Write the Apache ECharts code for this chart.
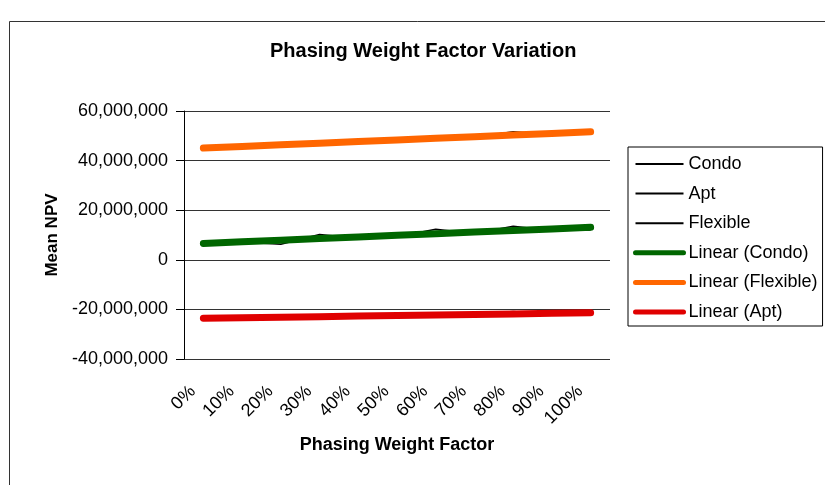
<!DOCTYPE html>
<html>
<head>
<meta charset="utf-8">
<script src="https://cdn.jsdelivr.net/npm/echarts@6/dist/echarts.min.js"></script>
<style>
  html, body { margin: 0; padding: 0; background: #fff; }
  #chart { width: 825px; height: 485px; }
</style>
</head>
<body>
<div id="chart"></div>
<script>
// Phasing weight factor on the category axis
const categories = ['0%', '10%', '20%', '30%', '40%', '50%', '60%', '70%', '80%', '90%', '100%'];

// Mean NPV per product type
const condo = [6600000, 7200000, 6300000, 10200000, 8700000, 9300000, 12300000, 10600000, 13500000, 11800000, 12000000];
const apt = [-23600000, -23400000, -23200000, -23000000, -22700000, -22500000, -22300000, -22000000, -20800000, -22000000, -21800000];
const flexible = [45100000, 45700000, 46300000, 47000000, 47600000, 48200000, 48800000, 49400000, 51600000, 50500000, 51300000];

// Value axis ticks
const yMin = -40000000;
const yMax = 60000000;
const yStep = 20000000;

const FONT = '"Liberation Sans", Arial, sans-serif';

// Least-squares linear trend evaluated at every category
function linearTrend(values) {
  const n = values.length;
  let sx = 0, sy = 0, sxy = 0, sxx = 0;
  values.forEach((v, i) => { sx += i; sy += v; sxy += i * v; sxx += i * i; });
  const slope = (n * sxy - sx * sy) / (n * sxx - sx * sx);
  const icpt = (sy - slope * sx) / n;
  return values.map((_, i) => icpt + slope * i);
}

const chart = echarts.init(document.getElementById('chart'), null, { renderer: 'canvas' });

const rawLine = (name, data) => ({
  name, type: 'line', data, symbol: 'none', silent: true,
  lineStyle: { color: '#000', width: 1.5 }, itemStyle: { color: '#000' }
});
const trendLine = (name, data, color) => ({
  name, type: 'line', data: linearTrend(data), symbol: 'none', silent: true,
  lineStyle: { color, width: 7, cap: 'round', join: 'round' }, itemStyle: { color }
});

// legend entries show only the line sample, no marker
const hiddenMarker = { color: 'rgba(0,0,0,0)', borderWidth: 0, opacity: 0 };

chart.setOption({
  animation: false,
  backgroundColor: '#fff',
  title: {
    text: 'Phasing Weight Factor Variation',
    left: 270, top: 41, padding: 0,
    textStyle: { fontFamily: FONT, fontSize: 20, fontWeight: 'bold', color: '#000' }
  },
  graphic: [{
    type: 'rect', silent: true,
    shape: { x: 9.5, y: 21.5, width: 830, height: 480 },
    style: { fill: null, stroke: '#333', lineWidth: 1 }
  }],
  legend: {
    orient: 'vertical', left: 628, top: 147,
    padding: [8, 5, 5, 5],
    itemWidth: 48, itemHeight: 14, itemGap: 11.6,
    borderColor: '#000', borderWidth: 1, backgroundColor: '#fff',
    textStyle: { fontFamily: FONT, fontSize: 18, color: '#000', lineHeight: 18 },
    data: [
      { name: 'Condo', itemStyle: hiddenMarker, lineStyle: { color: '#000', width: 2 } },
      { name: 'Apt', itemStyle: hiddenMarker, lineStyle: { color: '#000', width: 2 } },
      { name: 'Flexible', itemStyle: hiddenMarker, lineStyle: { color: '#000', width: 2 } },
      { name: 'Linear (Condo)', itemStyle: hiddenMarker, lineStyle: { color: '#006600', width: 5, cap: 'round' } },
      { name: 'Linear (Flexible)', itemStyle: hiddenMarker, lineStyle: { color: '#FF6600', width: 5, cap: 'round' } },
      { name: 'Linear (Apt)', itemStyle: hiddenMarker, lineStyle: { color: '#E00000', width: 5, cap: 'round' } }
    ]
  },
  grid: { left: 184, right: 215, top: 111, bottom: 126, containLabel: false },
  xAxis: {
    type: 'category', data: categories, boundaryGap: true,
    name: 'Phasing Weight Factor', nameLocation: 'middle', nameGap: 77,
    nameTextStyle: { fontFamily: FONT, fontSize: 18, fontWeight: 'bold', color: '#000' },
    axisLine: { show: false, onZero: false },
    axisTick: { show: false },
    axisLabel: {
      rotate: 45, margin: 19, padding: [0, 15, 0, 0], interval: 0,
      fontFamily: FONT, fontSize: 18, color: '#000'
    },
    splitLine: { show: false }
  },
  yAxis: {
    type: 'value', min: yMin, max: yMax, interval: yStep,
    name: 'Mean NPV', nameLocation: 'middle', nameGap: 122,
    nameTextStyle: { fontFamily: FONT, fontSize: 17, fontWeight: 'bold', color: '#000' },
    axisLine: { show: true, lineStyle: { color: '#000', width: 1 } },
    axisTick: { show: true, inside: false, length: 8, lineStyle: { color: '#000' } },
    axisLabel: {
      margin: 16, fontFamily: FONT, fontSize: 18, color: '#000',
      formatter: v => v.toLocaleString('en-US')
    },
    splitLine: { show: true, lineStyle: { color: '#333', width: 1 } }
  },
  series: [
    rawLine('Condo', condo),
    rawLine('Apt', apt),
    rawLine('Flexible', flexible),
    trendLine('Linear (Condo)', condo, '#006600'),
    trendLine('Linear (Flexible)', flexible, '#FF6600'),
    trendLine('Linear (Apt)', apt, '#E00000')
  ]
});
</script>
</body>
</html>
